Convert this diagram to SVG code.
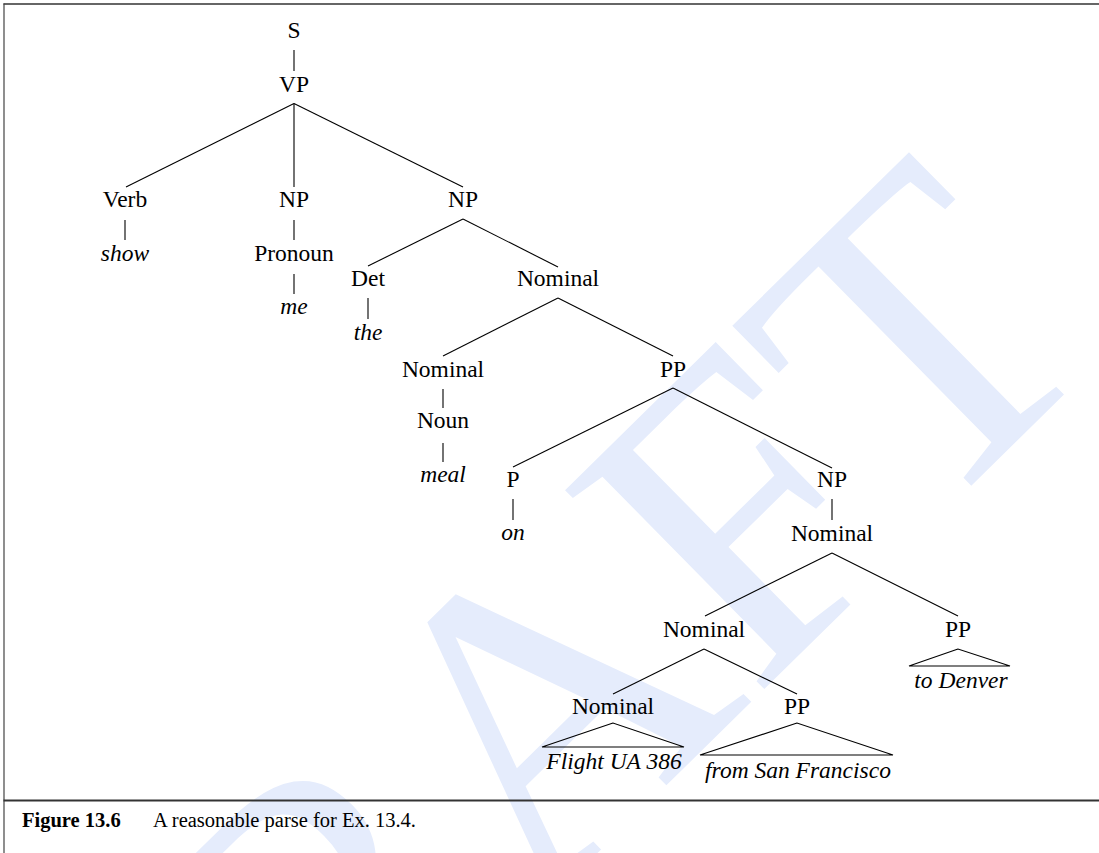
<svg xmlns="http://www.w3.org/2000/svg" width="1099" height="853" viewBox="0 0 1099 853">
<style>
.n{font-family:"Liberation Serif","Times New Roman",serif;font-size:23.5px;fill:#000;text-anchor:middle}
.w{font-family:"Liberation Serif","Times New Roman",serif;font-size:23.5px;font-style:italic;fill:#000;text-anchor:middle}
.e{stroke:#000;stroke-width:1.1;fill:none}
.cap{font-family:"Liberation Serif","Times New Roman",serif;font-size:20.5px;fill:#000}
</style>
<rect width="1099" height="853" fill="#fff"/>
<g id="watermark">
<text x="106" y="1336" transform="rotate(-44.5 106 1336)" font-family="Liberation Serif, serif" font-size="430" fill="#e5ecfc">DRAFT</text>
</g>
<g id="frame" fill="none">
<line x1="3.5" y1="4" x2="1099" y2="4" stroke="#333" stroke-width="1.6"/>
<line x1="4" y1="3.5" x2="4" y2="853" stroke="#444" stroke-width="1.2"/>
<line x1="3.5" y1="800.5" x2="1099" y2="800.5" stroke="#333" stroke-width="2"/>
</g>
<g id="connectors" class="e">
<line x1="294" y1="50" x2="294" y2="71"/>
<line x1="294" y1="103.5" x2="126" y2="187"/>
<line x1="294" y1="103.5" x2="294" y2="187"/>
<line x1="294" y1="103.5" x2="463" y2="187"/>
<line x1="125" y1="220" x2="125" y2="240"/>
<line x1="294" y1="220" x2="294" y2="240"/>
<line x1="294" y1="274" x2="294" y2="294"/>
<line x1="463" y1="219" x2="368" y2="266"/>
<line x1="463" y1="219" x2="558" y2="267"/>
<line x1="368" y1="298" x2="368" y2="319"/>
<line x1="558" y1="298" x2="443" y2="356"/>
<line x1="558" y1="298" x2="673" y2="356"/>
<line x1="443" y1="389" x2="443" y2="408"/>
<line x1="443" y1="443" x2="443" y2="462"/>
<line x1="673" y1="388" x2="513" y2="467"/>
<line x1="673" y1="388" x2="832" y2="468"/>
<line x1="513" y1="499" x2="513" y2="520"/>
<line x1="832" y1="499" x2="832" y2="520"/>
<line x1="832" y1="553" x2="705" y2="616"/>
<line x1="832" y1="553" x2="958" y2="616"/>
<line x1="704" y1="649" x2="613" y2="694"/>
<line x1="704" y1="649" x2="797" y2="694"/>
<polygon points="613,723 542,747 684,747"/>
<polygon points="797,723 700,755 893,755"/>
<polygon points="958,649 909,666 1010,666"/>
</g>
<g id="n-S"><text class="n" x="294" y="38">S</text></g>
<g id="n-VP"><text class="n" x="294" y="92">VP</text></g>
<g id="n-Verb"><text class="n" x="125" y="207">Verb</text></g>
<g id="n-NP1"><text class="n" x="294" y="207">NP</text></g>
<g id="n-NP2"><text class="n" x="463" y="207">NP</text></g>
<g id="n-show"><text class="w" x="125" y="261">show</text></g>
<g id="n-Pronoun"><text class="n" x="294" y="261">Pronoun</text></g>
<g id="n-me"><text class="w" x="294" y="314">me</text></g>
<g id="n-Det"><text class="n" x="368" y="286">Det</text></g>
<g id="n-Nominal1"><text class="n" x="558" y="286">Nominal</text></g>
<g id="n-the"><text class="w" x="368" y="340">the</text></g>
<g id="n-Nominal2"><text class="n" x="443" y="377">Nominal</text></g>
<g id="n-PP1"><text class="n" x="673" y="377">PP</text></g>
<g id="n-Noun"><text class="n" x="443" y="428">Noun</text></g>
<g id="n-meal"><text class="w" x="443" y="482">meal</text></g>
<g id="n-P"><text class="n" x="513" y="487">P</text></g>
<g id="n-NP3"><text class="n" x="832" y="487">NP</text></g>
<g id="n-on"><text class="w" x="513" y="540">on</text></g>
<g id="n-Nominal3"><text class="n" x="832" y="541">Nominal</text></g>
<g id="n-Nominal4"><text class="n" x="704" y="637">Nominal</text></g>
<g id="n-PP2"><text class="n" x="958" y="637">PP</text></g>
<g id="n-todenver"><text class="w" x="961" y="688">to Denver</text></g>
<g id="n-Nominal5"><text class="n" x="613" y="714">Nominal</text></g>
<g id="n-PP3"><text class="n" x="797" y="714">PP</text></g>
<g id="n-flight"><text class="w" x="614" y="769">Flight UA 386</text></g>
<g id="n-fromsf"><text class="w" x="798" y="778">from San Francisco</text></g>
<g id="caption">
<text class="cap" x="22" y="827" font-weight="bold">Figure 13.6</text>
<text class="cap" x="153" y="827">A reasonable parse for Ex. 13.4.</text>
</g>
</svg>
